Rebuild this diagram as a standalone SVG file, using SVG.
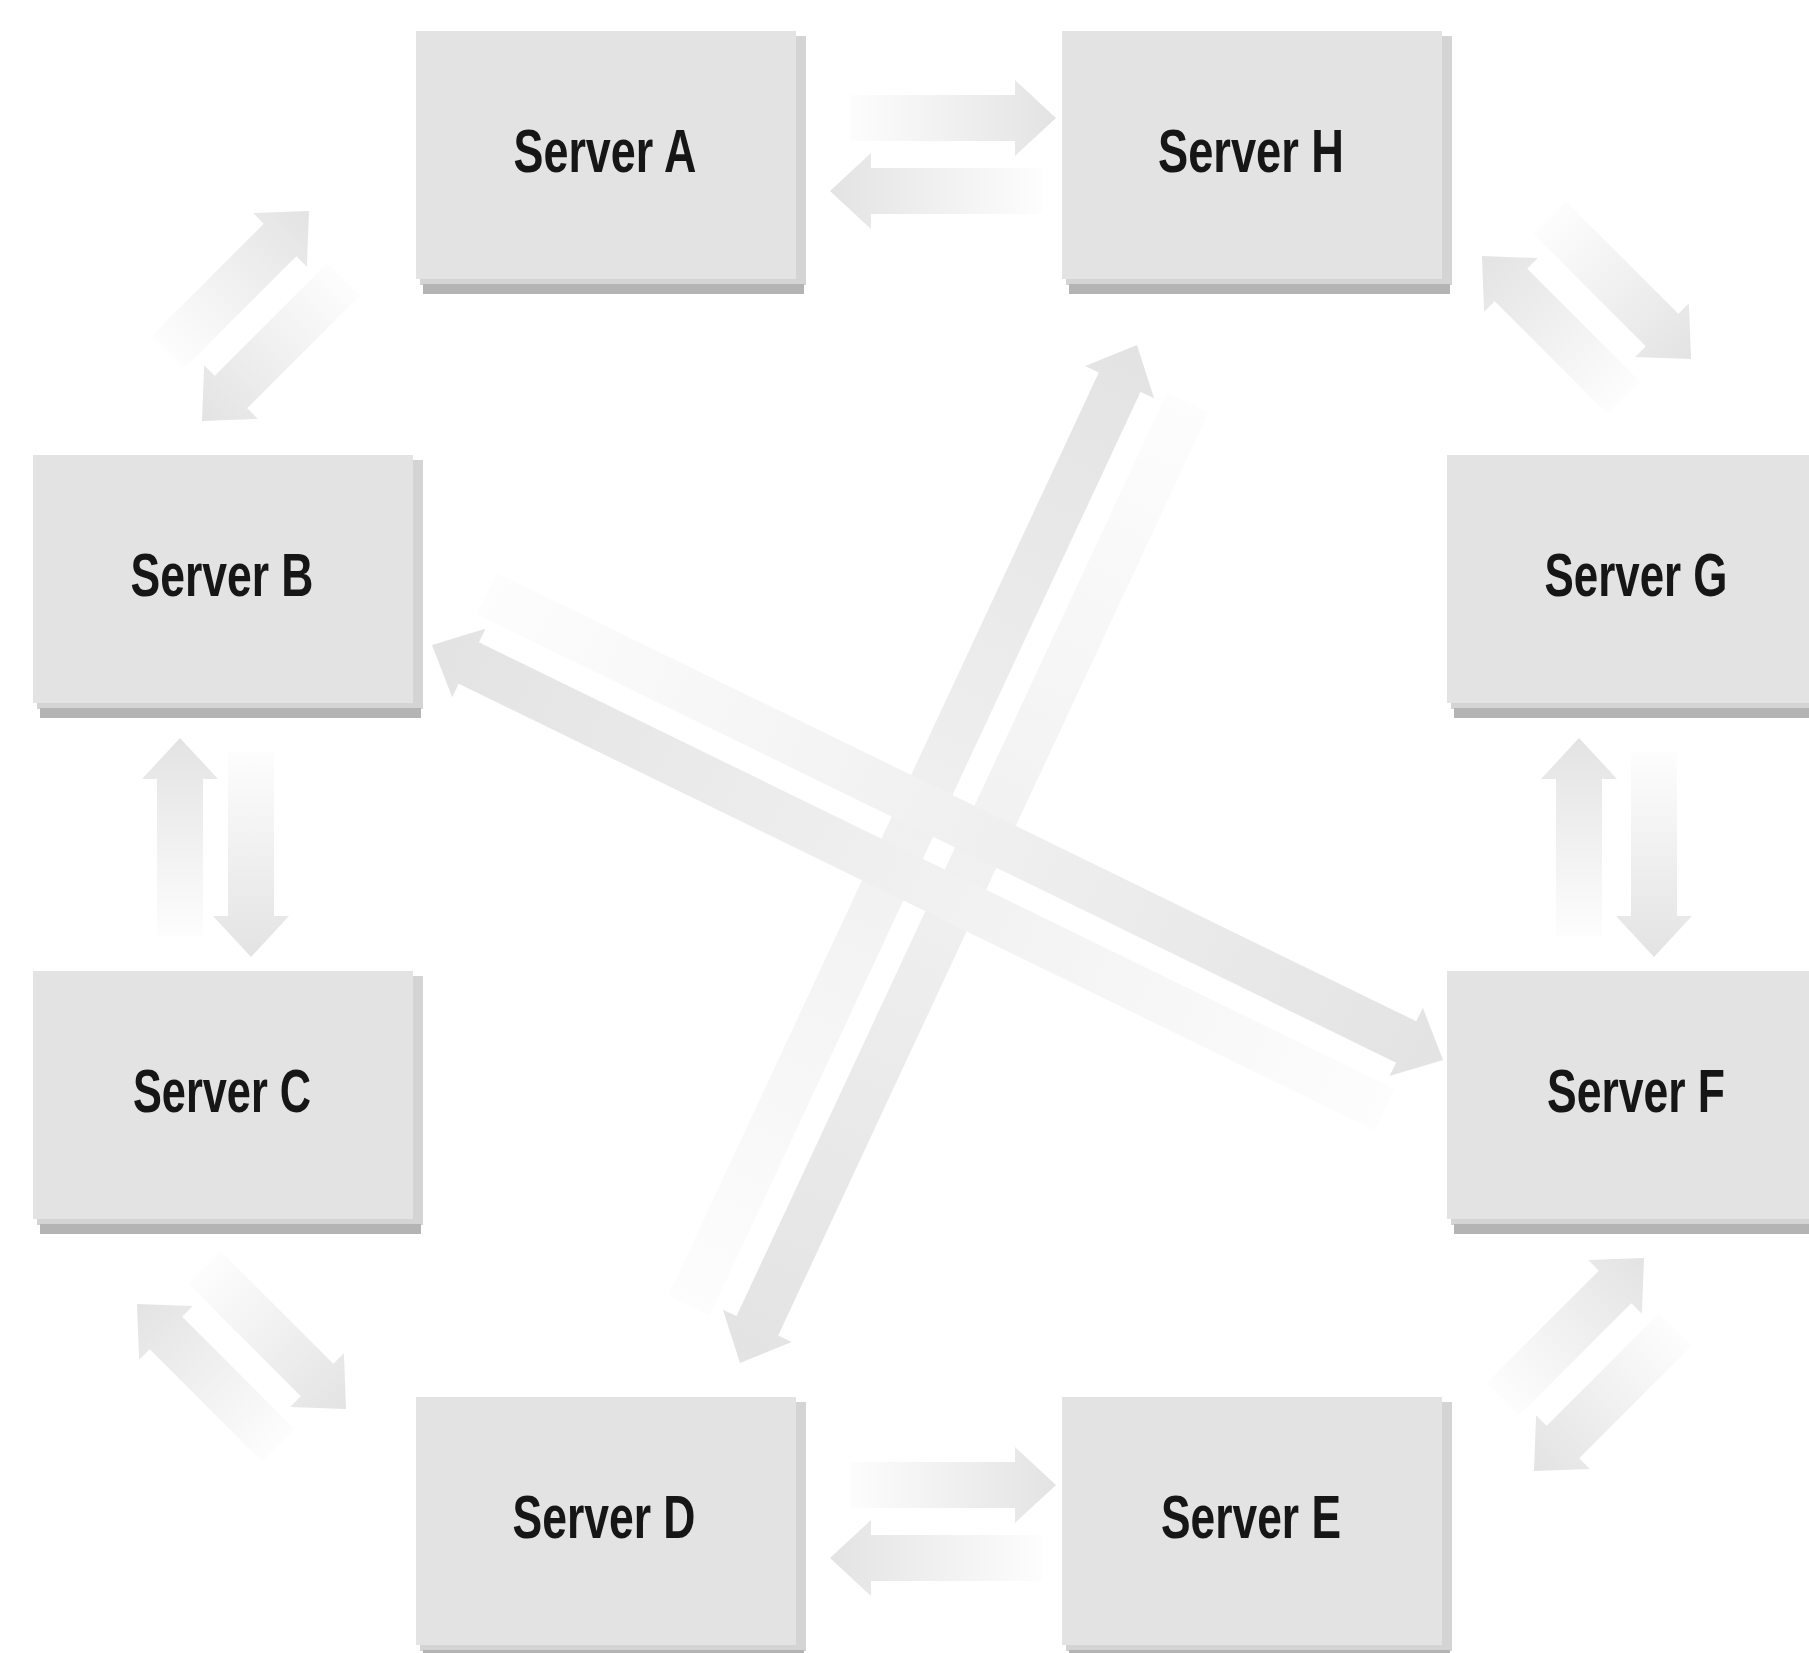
<svg xmlns="http://www.w3.org/2000/svg" width="1809" height="1653" viewBox="0 0 1809 1653">
  <defs>
    <!-- block arrows fade from tail (left of local x) to head -->
    <linearGradient id="fade" x1="0" y1="0" x2="1" y2="0">
      <stop offset="0" stop-color="#FDFDFD"/>
      <stop offset="1" stop-color="#E3E3E3"/>
    </linearGradient>
  </defs>
  <style>
    .box{fill:#E3E3E3}
    .edge{fill:#D4D4D4}
    .base{fill:#B4B4B4}
    .arrow{fill:url(#fade)}
    .label{font-family:"Liberation Sans",Arial,sans-serif;font-weight:bold;font-size:62px;fill:#161616;text-anchor:middle}
  </style>
  <rect width="1809" height="1653" fill="#FFFFFF"/>

  <g id="connectors">
    <!-- A <-> H -->
    <path class="arrow" transform="translate(850,118)" d="M0,-23H165V-38L206,0L165,38V23H0Z"/>
    <path class="arrow" transform="translate(1042,191) rotate(180)" d="M0,-23H171V-38L212,0L171,38V23H0Z"/>
    <!-- D <-> E -->
    <path class="arrow" transform="translate(850,1485)" d="M0,-23H165V-38L206,0L165,38V23H0Z"/>
    <path class="arrow" transform="translate(1042,1558) rotate(180)" d="M0,-23H171V-38L212,0L171,38V23H0Z"/>
    <!-- B <-> C -->
    <path class="arrow" transform="translate(180,936) rotate(-90)" d="M0,-23H157V-38L198,0L157,38V23H0Z"/>
    <path class="arrow" transform="translate(251,752) rotate(90)" d="M0,-23H164V-38L205,0L164,38V23H0Z"/>
    <!-- G <-> F -->
    <path class="arrow" transform="translate(1579,936) rotate(-90)" d="M0,-23H157V-38L198,0L157,38V23H0Z"/>
    <path class="arrow" transform="translate(1654,752) rotate(90)" d="M0,-23H164V-38L205,0L164,38V23H0Z"/>
    <!-- B <-> A -->
    <path class="arrow" transform="translate(167.6,352.4) rotate(-45)" d="M0,-23H159V-38L200,0L159,38V23H0Z"/>
    <path class="arrow" transform="translate(343.4,279.6) rotate(135)" d="M0,-23H159V-38L200,0L159,38V23H0Z"/>
    <!-- H <-> G -->
    <path class="arrow" transform="translate(1549.6,217.6) rotate(45)" d="M0,-23H159V-38L200,0L159,38V23H0Z"/>
    <path class="arrow" transform="translate(1623.4,397.4) rotate(-135)" d="M0,-23H159V-38L200,0L159,38V23H0Z"/>
    <!-- C <-> D -->
    <path class="arrow" transform="translate(278.4,1445.4) rotate(-135)" d="M0,-23H159V-38L200,0L159,38V23H0Z"/>
    <path class="arrow" transform="translate(204.6,1267.6) rotate(45)" d="M0,-23H159V-38L200,0L159,38V23H0Z"/>
    <!-- F <-> E -->
    <path class="arrow" transform="translate(1502.6,1399.4) rotate(-45)" d="M0,-23H159V-38L200,0L159,38V23H0Z"/>
    <path class="arrow" transform="translate(1675.4,1329.6) rotate(135)" d="M0,-23H159V-38L200,0L159,38V23H0Z"/>
    <!-- D <-> H (long diagonals) -->
    <path class="arrow" transform="translate(689,1305.7) rotate(-65)" d="M0,-23H1019V-38L1060,0L1019,38V23H0Z"/>
    <path class="arrow" transform="translate(1188,402.3) rotate(115)" d="M0,-23H1019V-38L1060,0L1019,38V23H0Z"/>
    <!-- B <-> F (long diagonals) -->
    <path class="arrow" transform="translate(486.7,593.5) rotate(26)" d="M0,-23H1023V-38L1064,0L1023,38V23H0Z"/>
    <path class="arrow" transform="translate(1384.7,1109.7) rotate(206)" d="M0,-23H1019V-38L1060,0L1019,38V23H0Z"/>
  </g>

  <g id="server-a">
    <rect class="edge" x="420" y="36" width="386" height="249"/>
    <rect class="base" x="423" y="284" width="381" height="10"/>
    <rect class="box" x="416" y="31" width="380" height="248"/>
    <text class="label" x="605" y="172" textLength="183" lengthAdjust="spacingAndGlyphs">Server A</text>
  </g>
  <g id="server-h">
    <rect class="edge" x="1066" y="36" width="386" height="249"/>
    <rect class="base" x="1069" y="284" width="381" height="10"/>
    <rect class="box" x="1062" y="31" width="380" height="248"/>
    <text class="label" x="1251" y="172" textLength="186" lengthAdjust="spacingAndGlyphs">Server H</text>
  </g>
  <g id="server-b">
    <rect class="edge" x="37" y="460" width="386" height="249"/>
    <rect class="base" x="40" y="708" width="381" height="10"/>
    <rect class="box" x="33" y="455" width="380" height="248"/>
    <text class="label" x="222" y="596" textLength="183" lengthAdjust="spacingAndGlyphs">Server B</text>
  </g>
  <g id="server-g">
    <rect class="edge" x="1451" y="460" width="386" height="249"/>
    <rect class="base" x="1454" y="708" width="381" height="10"/>
    <rect class="box" x="1447" y="455" width="380" height="248"/>
    <text class="label" x="1636" y="596" textLength="183" lengthAdjust="spacingAndGlyphs">Server G</text>
  </g>
  <g id="server-c">
    <rect class="edge" x="37" y="976" width="386" height="249"/>
    <rect class="base" x="40" y="1224" width="381" height="10"/>
    <rect class="box" x="33" y="971" width="380" height="248"/>
    <text class="label" x="222" y="1112" textLength="178" lengthAdjust="spacingAndGlyphs">Server C</text>
  </g>
  <g id="server-f">
    <rect class="edge" x="1451" y="976" width="386" height="249"/>
    <rect class="base" x="1454" y="1224" width="381" height="10"/>
    <rect class="box" x="1447" y="971" width="380" height="248"/>
    <text class="label" x="1636" y="1112" textLength="178" lengthAdjust="spacingAndGlyphs">Server F</text>
  </g>
  <g id="server-d">
    <rect class="edge" x="420" y="1402" width="386" height="249"/>
    <rect class="base" x="423" y="1650" width="381" height="10"/>
    <rect class="box" x="416" y="1397" width="380" height="248"/>
    <text class="label" x="604" y="1538" textLength="183" lengthAdjust="spacingAndGlyphs">Server D</text>
  </g>
  <g id="server-e">
    <rect class="edge" x="1066" y="1402" width="386" height="249"/>
    <rect class="base" x="1069" y="1650" width="381" height="10"/>
    <rect class="box" x="1062" y="1397" width="380" height="248"/>
    <text class="label" x="1251" y="1538" textLength="180" lengthAdjust="spacingAndGlyphs">Server E</text>
  </g>
</svg>
